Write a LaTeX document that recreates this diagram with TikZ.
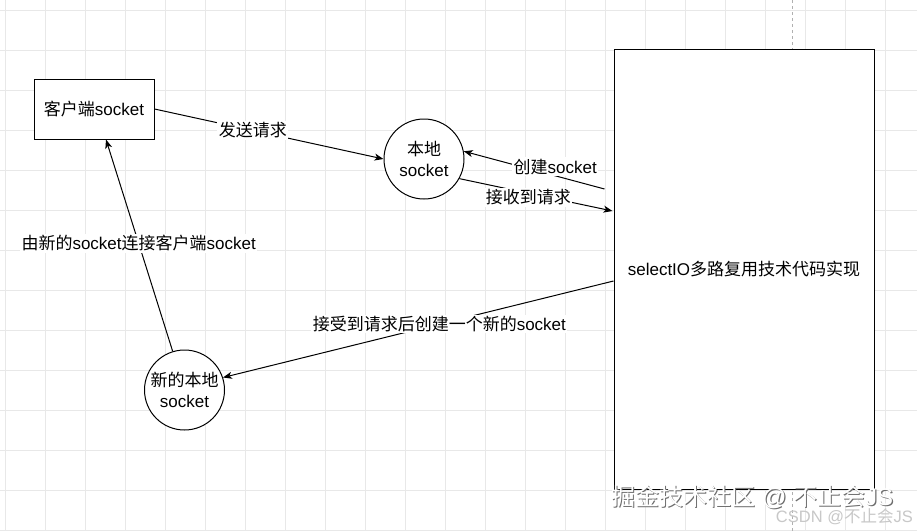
\documentclass[tikz,border=0pt]{standalone}
\usepackage{fontspec}
\setmainfont{Liberation Sans}
\newfontfamily\cjk{Noto Sans CJK SC}
\usetikzlibrary{arrows.meta,calc}
\definecolor{gridc}{HTML}{E8E8E8}
\definecolor{pagec}{HTML}{B0B0B0}
\definecolor{wmshadow}{HTML}{6E6E6E}
\definecolor{csdnc}{HTML}{C8C8C8}
\tikzset{
  txt/.style={font=\fontsize{17}{21}\selectfont, align=center},
  boxnode/.style={draw, line width=1pt, fill=white, txt, inner sep=0pt},
  circnode/.style={draw, circle, line width=1pt, fill=white, txt, minimum size=80pt, inner sep=0pt},
  conn/.style={draw, line width=1pt, -{Stealth[length=9pt,width=7pt,inset=2.5pt]}},
  lbl/.style={fill=white, txt, inner sep=1.5pt},
  gridline/.style={gridc, line width=0.8pt},
}
\begin{document}
\begin{tikzpicture}[x=1pt,y=-1pt]
\useasboundingbox (0,0) rectangle (917,531);
\fill[white] (0,0) rectangle (917,531);
% background grid
\foreach \gx in {5,45,...,917} \draw[gridline] (\gx,0) -- (\gx,531);
\foreach \gy in {10,50,...,531} \draw[gridline] (0,\gy) -- (917,\gy);
% page break line
\draw[pagec, dashed, line width=0.7pt] (792,0) -- (792,531);

% nodes
\node[boxnode, minimum width=120pt, minimum height=60pt] (client) at (94,109) {{\cjk 客户端}socket};
\node[circnode] (local) at (424,159) {{\cjk 本地}\\socket};
\node[boxnode, minimum width=260pt, minimum height=440pt] (sel) at (744,269) {selectIO{\cjk 多路复用技术代码实现}};
\node[circnode] (newl) at (184.5,390) {{\cjk 新的本地}\\socket};

% connectors
\draw[conn] (client.east) -- node[lbl, pos=0.43] {\cjk 发送请求} (local.west);
\draw[conn] ($(sel.west)+(-9,-80)$) -- node[lbl, pos=0.35, yshift=9pt] {{\cjk 创建}socket} (local.11);
\draw[conn] (local.-29) -- node[lbl, pos=0.45, yshift=-4pt] {\cjk 接收到请求} ($(sel.west)+(-1,-58)$);
\draw[conn] ($(sel.west)+(0,12)$) -- node[lbl, pos=0.446] {{\cjk 接受到请求后创建一个新的}socket} (newl.18);
\draw[conn] (newl.107) -- node[lbl, pos=0.51] {{\cjk 由新的}socket{\cjk 连接客户端}socket} ($(client.south)+(12,0)$);

% watermarks
\node[wmshadow, font=\fontsize{24}{27}\selectfont, anchor=west, inner sep=0pt] (wmA) at (612.5,498) {{\cjk 掘金技术社区} @ {\cjk 不止会}JS};
\node[white, font=\fontsize{24}{27}\selectfont, anchor=west, inner sep=0pt] (wmB) at (611.3,496.8) {{\cjk 掘金技术社区} @ {\cjk 不止会}JS};
\node[csdnc, font=\fontsize{16.5}{19}\selectfont, anchor=east, inner sep=0pt] (csdn) at (913,517) {CSDN @{\cjk 不止会}JS};
\end{tikzpicture}
\end{document}
